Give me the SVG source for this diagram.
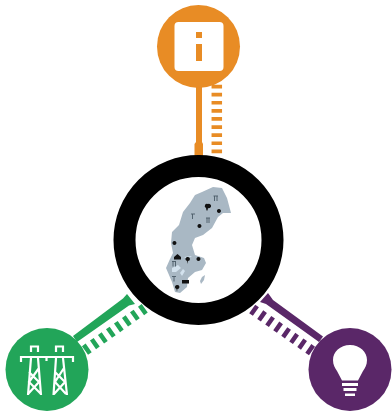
<svg xmlns="http://www.w3.org/2000/svg" width="392" height="416" viewBox="0 0 392 416">
<style>
.map{fill:#a9b8c4}.lake{fill:#d3e2ee}.dot{fill:#111}.py{fill:none;stroke:#4a5a66;stroke-width:.9}
.w{fill:none;stroke:#fff;stroke-width:2.2}
</style>
<g id="connectors">
<g id="conn-orange" fill="#e88c25">
<path d="M196 85H202V142L203 144V156H194.500V144L196 142Z"/>
<path fill="none" stroke="#e88c25" stroke-width="10.500" stroke-dasharray="3.700 4.400" d="M216.800 84.700V156"/>
</g>
<g id="conn-green" fill="#22a559">
<path d="M73 336L123 298.500L127 294L135 304L129 305.500L77 342Z"/>
<path fill="none" stroke="#22a559" stroke-width="10.500" stroke-dasharray="4.500 5.300" d="M85 350.500L148 306"/>
</g>
<g id="conn-purple" fill="#5a2768">
<path d="M323 336.500L273 300L268 293L260 302L266 304L319 342Z"/>
<path fill="none" stroke="#5a2768" stroke-width="10.500" stroke-dasharray="4.500 5.300" d="M312 351L248 306"/>
</g>
</g>
<g id="hub">
<circle cx="198.500" cy="240" r="74" fill="#fff" stroke="#000" stroke-width="22"/>
<g id="map">
<path class="map" d="M195 195L202 192L213 187L222 188L227 198L231 213L223 213L218 217L212 228L203 235L195 238L192 245L195 255L204 258L206 263L202 270L195 272L188 278L187 287L180 293L175 292L172 282L166 268L170 259L173 253L171 243L172 232L179 225L183 212L190 203Z"/>
<path class="map" d="M202 277L205 275L204 280L201 284L200 281Z"/>
<path class="lake" d="M172 268L178 265L181 268L176 272L172 272ZM180 273L183 269L185 271L182 276ZM184 257L192 256L188 259Z"/>
<path class="dot" d="M208 204a2.200 2.200 0 1 1 0 4l-.5 2.500l-1 0l-.5-2.500a2.200 2.200 0 0 1 2-4ZM219 209a2 2 0 1 1 -.1 0ZM199.500 224a2 2 0 1 1-.1 0ZM174.500 241a2 2 0 1 1-.1 0ZM198.500 257a2 2 0 1 1-.1 0ZM188 257a2 2 0 1 1-.1 4l-.4 3l-.5-3a2 2 0 0 1 1-4ZM177.500 285a2 2 0 1 1-.1 4l-.4 3l-.5-3a2 2 0 0 1 1-4Z"/>
<path class="dot" d="M174 257l3.500-3l3.500 3v2.500h-7ZM182 280h7v3.500h-7Z"/>
<path class="py" d="M213.500 196h4.500M214.500 196v5M217 196v5M191 214h4M192.500 214v5M206 218h4M207 218v5M209 218v5M172 261.500h4M173 261.500v5M175.500 261.500v5M172 276.500h4M174 276.500v5"/>
</g>
</g>
<g id="node-info">
<circle cx="198.500" cy="46.500" r="41.500" fill="#e88c25"/>
<rect x="174.500" y="22" width="49" height="49" rx="4" fill="#fff"/>
<path fill="#e88c25" d="M196 32h6v6h-6ZM196 44h6v17h-6Z"/>
</g>
<g id="node-power">
<circle cx="47" cy="369.500" r="41.500" fill="#22a559"/>
<g class="w">
<path d="M21 362V357H73V362M31 352V346.500H38V352M56 352V346.500H63V352M46.500 357V361"/>
<path d="M31 358L28 395M38 358L41 395M29 372L39 382L28 394M39 368L29 382L41 394M56 358L53.500 395M63 358L67 395M55 372L65 382L54 394M64 368L55 382L66 394"/>
</g>
</g>
<g id="node-idea">
<circle cx="350" cy="369.500" r="41.500" fill="#5a2768"/>
<path fill="#fff" d="M350 345c-10 0-17 7-17 15c0 5 2 8 4 11l5 9.500h16l5-9.500c2-3 4-6 4-11c0-8-7-15-17-15Z"/>
<path fill="#fff" d="M342 383h16v3h-16ZM343.500 388h13v3h-13ZM345 393.500h10v2.500h-10Z"/>
</g>
</svg>
